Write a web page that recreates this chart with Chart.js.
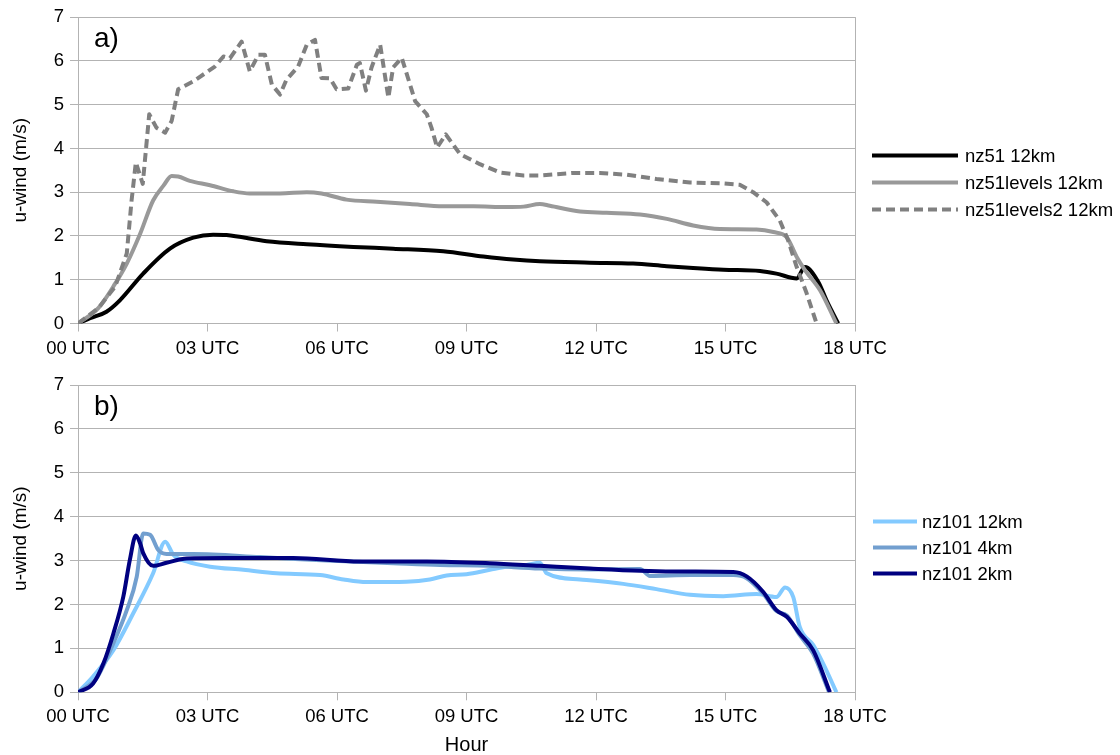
<!DOCTYPE html>
<html><head><meta charset="utf-8">
<script src="https://cdn.jsdelivr.net/npm/chart.js@4/dist/chart.umd.min.js"></script>
<style>
html,body{margin:0;padding:0;background:#fff;overflow:hidden;width:1120px;height:755px;}
canvas{position:absolute;left:0;}
#chartA{top:0;}
#chartB{top:365px;}
</style></head><body>
<canvas id="chartA" width="1120" height="365"></canvas>
<canvas id="chartB" width="1120" height="390"></canvas>
<script>
// ---------- data ----------
const hourLabels = ['00 UTC','03 UTC','06 UTC','09 UTC','12 UTC','15 UTC','18 UTC'];
const yTitle = 'u-wind (m/s)';
const xTitle = 'Hour';

// panel a)
const nz51Hours  = [0,0.28,0.66,0.97,1.51,2.13,2.67,3.13,3.44,4.37,5.30,6.38,7.30,8.46,9.39,10.08,10.70,11.86,12.86,13.64,14.25,14.95,15.80,16.18,16.65,16.84,17.15,17.34,17.61];
const nz51Values = [0,0.12,0.27,0.53,1.14,1.71,1.96,2.03,2.02,1.88,1.81,1.75,1.71,1.65,1.53,1.46,1.42,1.39,1.37,1.31,1.27,1.23,1.20,1.14,1.03,1.29,0.95,0.53,0];

const nz51levHours  = [0,0.47,0.86,1.13,1.44,1.74,1.98,2.17,2.32,2.59,3.06,3.60,3.98,4.68,5.30,5.64,6.22,6.92,7.69,8.46,9.16,9.93,10.32,10.70,10.93,11.63,12.25,13.02,13.64,14.25,14.87,15.72,16.11,16.42,16.65,16.84,17.19,17.57];
const nz51levValues = [0,0.35,0.91,1.37,2.05,2.81,3.15,3.37,3.36,3.26,3.16,3.02,2.97,2.97,3.00,2.97,2.83,2.78,2.73,2.68,2.68,2.66,2.67,2.73,2.69,2.56,2.53,2.49,2.39,2.24,2.16,2.15,2.09,1.97,1.52,1.22,0.76,0];

const nz51lev2Hours  = [0,0.47,0.86,1.13,1.24,1.34,1.50,1.65,1.82,2.02,2.17,2.32,2.67,3.17,3.37,3.52,3.79,3.98,4.18,4.33,4.49,4.68,4.83,5.10,5.30,5.49,5.64,5.84,5.99,6.26,6.46,6.53,6.67,6.80,7.00,7.19,7.30,7.50,7.81,8.08,8.19,8.32,8.52,8.85,9.31,9.78,10.32,10.70,11.47,12.09,12.71,13.40,14.18,14.95,15.33,15.64,15.95,16.26,16.45,16.65,16.88,17.11];
const nz51lev2Values = [0,0.35,0.84,1.60,2.80,3.68,3.19,4.78,4.47,4.36,4.63,5.35,5.53,5.87,6.10,6.06,6.44,5.76,6.14,6.14,5.46,5.23,5.57,5.87,6.37,6.48,5.61,5.60,5.35,5.37,5.91,5.95,5.32,5.85,6.37,5.16,5.85,6.07,5.08,4.78,4.47,4.02,4.32,3.87,3.64,3.45,3.38,3.38,3.44,3.44,3.40,3.30,3.22,3.20,3.17,3.00,2.77,2.35,1.90,1.29,0.69,0];

// panel b)
const nz101k12Hours  = [0,0.35,0.82,1.28,1.74,2.02,2.21,2.52,3.06,3.83,4.60,5.61,6.15,6.69,7.61,8.15,8.54,9.00,9.54,9.93,10.39,10.70,10.86,11.63,12.63,13.40,14.18,14.95,15.72,16.18,16.38,16.57,16.72,17.03,17.26,17.57];
const nz101k12Values = [0,0.36,0.96,1.80,2.71,3.43,3.13,2.98,2.86,2.79,2.71,2.67,2.57,2.51,2.52,2.57,2.66,2.69,2.79,2.86,2.90,2.95,2.71,2.57,2.47,2.35,2.22,2.19,2.24,2.17,2.39,2.17,1.49,1.08,0.66,0];

const nz101k4Hours  = [0,0.43,0.82,1.13,1.36,1.51,1.67,1.86,2.05,2.67,4.22,5.76,7.30,8.39,9.50,10.70,11.86,13.02,13.25,14.18,15.18,15.49,15.87,16.18,16.42,16.72,17.03,17.40];
const nz101k4Values = [0,0.32,1.12,1.87,2.63,3.62,3.59,3.24,3.15,3.15,3.08,3.00,2.94,2.90,2.88,2.82,2.80,2.81,2.65,2.67,2.67,2.60,2.25,1.85,1.75,1.30,0.88,0];

const nz101k2Hours  = [0,0.35,0.59,0.82,1.05,1.20,1.34,1.44,1.51,1.74,2.05,2.52,3.44,4.99,6.53,8.08,9.54,10.70,11.86,13.02,14.18,15.18,15.49,15.87,16.18,16.42,16.72,17.03,17.42];
const nz101k2Values = [0,0.20,0.66,1.34,2.18,3.01,3.57,3.39,3.17,2.88,2.95,3.05,3.06,3.06,2.98,2.98,2.94,2.88,2.82,2.77,2.75,2.74,2.64,2.29,1.87,1.72,1.34,0.96,0];

// ---------- styling ----------
const FONT = '"Liberation Sans", Arial, sans-serif';
const GRID = '#b3b3b3';
const TXT = '#000000';

function pts(hs, vs){ return hs.map((h,i)=>({x:h,y:vs[i]})); }
function series(label, hs, vs, color, dash, order, smooth){
  return {label, data:pts(hs,vs), borderColor:color, backgroundColor:color, borderWidth:4,
    borderDash:dash||[], pointRadius:0, fill:false, tension:0,
    cubicInterpolationMode: smooth ? 'monotone' : 'default',
    borderJoinStyle:'round', borderCapStyle:'butt', order};
}

const panelDecor = {
  id:'panelDecor',
  afterDraw(chart, args, opts){
    const ctx = chart.ctx, a = chart.chartArea;
    ctx.save();
    ctx.fillStyle = TXT;
    ctx.font = '28px ' + FONT;
    ctx.textBaseline = 'alphabetic';
    ctx.textAlign = 'left';
    ctx.fillText(opts.label, a.left + 16, a.top + 30);
    const L = opts.legend;
    chart.data.datasets.forEach((ds, i) => {
      const y = L.y0 + i * L.dy;
      ctx.beginPath();
      ctx.strokeStyle = ds.borderColor;
      ctx.lineWidth = 4;
      ctx.setLineDash(ds.borderDash || []);
      ctx.moveTo(L.x, y);
      ctx.lineTo(L.x + L.len, y);
      ctx.stroke();
      ctx.setLineDash([]);
      ctx.font = '18.5px ' + FONT;
      ctx.textBaseline = 'middle';
      ctx.fillText(ds.label, L.textX, y + 1);
    });
    ctx.restore();
  }
};

function makeOptions(label, legendCfg, padTop, xHeight, showXTitle){
  return {
    responsive:false, animation:false, devicePixelRatio:1,
    layout:{padding:{left:0, right:265, top:padTop, bottom:0}},
    plugins:{legend:{display:false}, tooltip:{enabled:false},
      panelDecor:{label, legend:legendCfg}},
    scales:{
      x:{type:'linear', min:0, max:18,
        ticks:{stepSize:3, autoSkip:false, maxRotation:0, minRotation:0, padding:6, color:TXT,
          font:{family:FONT, size:18.5},
          callback:(v)=>hourLabels[Math.round(v/3)]},
        grid:{color:(c)=> (c.tick && c.tick.value === 18) ? GRID : 'rgba(0,0,0,0)',
          tickColor:GRID, tickLength:8, lineWidth:1, drawOnChartArea:true, drawTicks:true},
        border:{color:GRID, width:1},
        title:{display:showXTitle, text:xTitle, color:TXT, font:{family:FONT, size:20, lineHeight:1}, padding:{top:0,bottom:0}},
        afterFit:(s)=>{ s.height = xHeight; }
      },
      y:{min:0, max:7,
        ticks:{stepSize:1, padding:6, color:TXT, font:{family:FONT, size:18.5}},
        grid:{color:GRID, tickColor:GRID, tickLength:8, lineWidth:1},
        border:{color:GRID, width:1},
        title:{display:true, text:yTitle, color:TXT, font:{family:FONT, size:19, lineHeight:1.2}, padding:{top:9,bottom:0}},
        afterFit:(s)=>{ s.width = 78; }
      }
    }
  };
}

new Chart(document.getElementById('chartA'), {
  type:'line',
  data:{datasets:[
    series('nz51 12km', nz51Hours, nz51Values, '#000000', null, 3, true),
    series('nz51levels 12km', nz51levHours, nz51levValues, '#999999', null, 2, true),
    series('nz51levels2 12km', nz51lev2Hours, nz51lev2Values, '#808080', [9,5], 1, false)
  ]},
  options: makeOptions('a)', {x:872, len:86, textX:965, y0:155.5, dy:27}, 15.5, 41.5, false),
  plugins:[panelDecor]
});

new Chart(document.getElementById('chartB'), {
  type:'line',
  data:{datasets:[
    series('nz101 12km', nz101k12Hours, nz101k12Values, '#83caff', null, 3, true),
    series('nz101 4km', nz101k4Hours, nz101k4Values, '#729fcf', null, 2, true),
    series('nz101 2km', nz101k2Hours, nz101k2Values, '#000080', null, 1, true)
  ]},
  options: makeOptions('b)', {x:873, len:44, textX:922, y0:156.5, dy:26}, 20, 62.7, true),
  plugins:[panelDecor]
});
</script>
</body></html>
